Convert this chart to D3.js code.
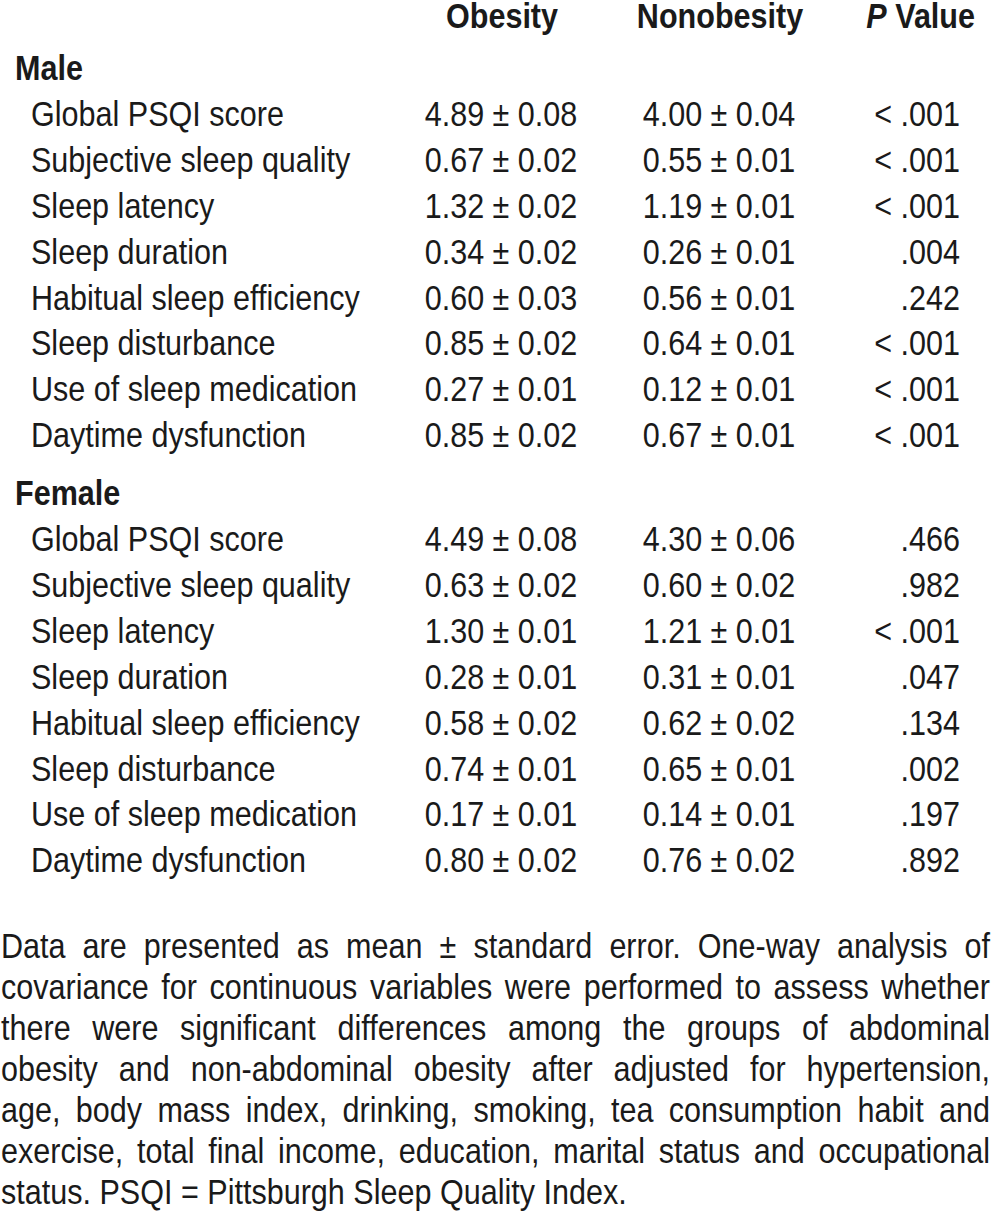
<!DOCTYPE html>
<html>
<head>
<meta charset="utf-8">
<script src="https://d3js.org/d3.v7.min.js"></script>
<style>
    html, body { margin: 0; padding: 0; background: white; }
    svg { display: block; }
    text { font-family: 'Liberation Sans', Arial, sans-serif; fill: #1a1a1a; }
</style>
</head>
<body>
<script>

//DATA
let columns = ['Obesity', 'Nonobesity', 'P Value']
let sections = ['Male', 'Female']
let rowLabels = ['Global PSQI score', 'Subjective sleep quality', 'Sleep latency', 'Sleep duration',
                 'Habitual sleep efficiency', 'Sleep disturbance', 'Use of sleep medication', 'Daytime dysfunction']

let maleObMean = [4.89, 0.67, 1.32, 0.34, 0.60, 0.85, 0.27, 0.85]
let maleObSE   = [0.08, 0.02, 0.02, 0.02, 0.03, 0.02, 0.01, 0.02]
let maleNoMean = [4.00, 0.55, 1.19, 0.26, 0.56, 0.64, 0.12, 0.67]
let maleNoSE   = [0.04, 0.01, 0.01, 0.01, 0.01, 0.01, 0.01, 0.01]
let maleP      = ['< .001', '< .001', '< .001', '.004', '.242', '< .001', '< .001', '< .001']

let femObMean = [4.49, 0.63, 1.30, 0.28, 0.58, 0.74, 0.17, 0.80]
let femObSE   = [0.08, 0.02, 0.01, 0.01, 0.02, 0.01, 0.01, 0.02]
let femNoMean = [4.30, 0.60, 1.21, 0.31, 0.62, 0.65, 0.14, 0.76]
let femNoSE   = [0.06, 0.02, 0.01, 0.01, 0.02, 0.01, 0.01, 0.02]
let femP      = ['.466', '.982', '< .001', '.047', '.134', '.002', '.197', '.892']

let footnote = [
    'Data are presented as mean \u00b1 standard error. One-way analysis of',
    'covariance for continuous variables were performed to assess whether',
    'there were significant differences among the groups of abdominal',
    'obesity and non-abdominal obesity after adjusted for hypertension,',
    'age, body mass index, drinking, smoking, tea consumption habit and',
    'exercise, total final income, education, marital status and occupational',
    'status. PSQI = Pittsburgh Sleep Quality Index.'
]

//LAYOUT
let W = 992, H = 1214
let fs = 36
let rowStep = 45.9
let sectionGap = 12
let fmt = d3.format('.2f')

let svg = d3.select('body').append('svg')
    .attr('width', W)
    .attr('height', H)

// horizontal squeeze so the sans reads like the narrow face in the original
let probe = svg.append('text').style('font-size', fs + 'px').text('Global PSQI score')
let sx = 253 / probe.node().getComputedTextLength()
probe.remove()

function put(str, x, y, anchor, bold){
    return svg.append('text')
        .attr('transform', 'translate(' + x + ',' + y + ') scale(' + sx + ',1)')
        .attr('text-anchor', anchor || 'start')
        .style('font-size', fs + 'px')
        .style('font-weight', bold ? 'bold' : 'normal')
        .text(str)
}

// column positions (centres for the two value columns, right edge for P)
let xHead = d3.scaleOrdinal().domain(columns).range([502, 720, 975])
let xVal  = d3.scaleOrdinal().domain(columns).range([501, 719, 960])

// row positions: row 0 is the header, rows from 1 on are the body
let y = d3.scaleLinear().domain([1, 2]).range([80, 80 + rowStep])

//HEADER
put('Obesity', xHead('Obesity'), 28, 'middle', true)
put('Nonobesity', xHead('Nonobesity'), 28, 'middle', true)
let pv = put('', xHead('P Value'), 28, 'end', true)
pv.append('tspan').style('font-style', 'italic').text('P')
pv.append('tspan').text(' Value')

//BODY
let blocks = [
    [maleObMean, maleObSE, maleNoMean, maleNoSE, maleP],
    [femObMean, femObSE, femNoMean, femNoSE, femP]
]

let idx = 1
sections.forEach(function(sec, s){
    let off = s * sectionGap
    put(sec, 15, y(idx) + off, 'start', true)
    idx++
    let b = blocks[s]
    rowLabels.forEach(function(lab, i){
        let yy = y(idx) + off
        put(lab, 31, yy)
        put(fmt(b[0][i]) + ' \u00b1 ' + fmt(b[1][i]), xVal('Obesity'), yy, 'middle')
        put(fmt(b[2][i]) + ' \u00b1 ' + fmt(b[3][i]), xVal('Nonobesity'), yy, 'middle')
        put(b[4][i], xVal('P Value'), yy, 'end')
        idx++
    })
})

//FOOTNOTE (justified)
let fy = d3.scaleLinear().domain([0, 1]).range([958, 999])
let left = 1, right = 990

let spaceW = (function(){
    let t = svg.append('text').style('font-size', fs + 'px').text('a a')
    let a = svg.append('text').style('font-size', fs + 'px').text('aa')
    let d = (t.node().getComputedTextLength() - a.node().getComputedTextLength()) * sx
    t.remove(); a.remove()
    return d
})()

footnote.forEach(function(line, li){
    let words = line.split(' ')
    let widths = words.map(function(w){
        let t = svg.append('text').style('font-size', fs + 'px').text(w)
        let len = t.node().getComputedTextLength() * sx
        t.remove()
        return len
    })
    let gap = (li === footnote.length - 1)
        ? spaceW
        : (right - left - d3.sum(widths)) / (words.length - 1)
    let x = left
    words.forEach(function(w, k){
        put(w, x, fy(li))
        x += widths[k] + gap
    })
})

</script>
</body>
</html>
